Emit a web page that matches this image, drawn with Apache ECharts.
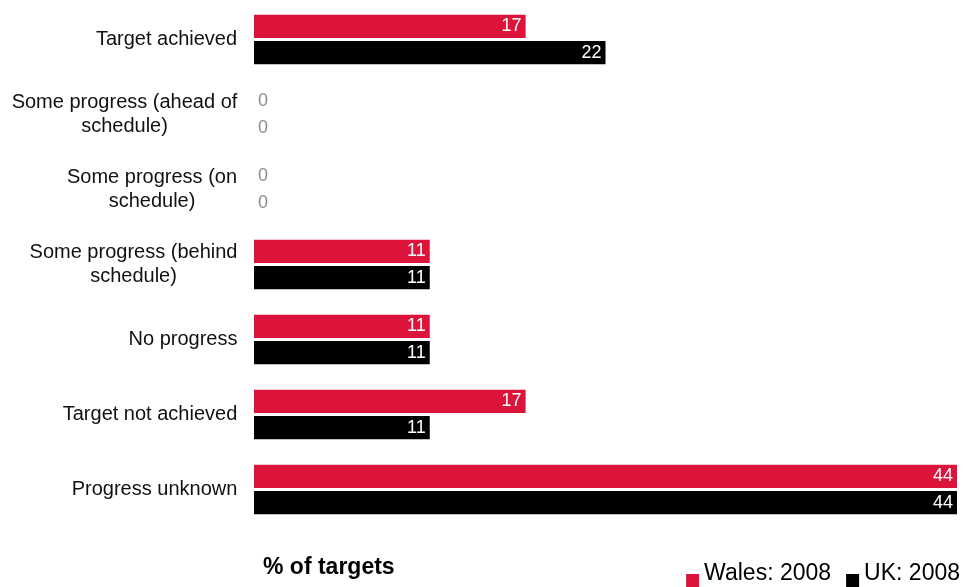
<!DOCTYPE html>
<html>
<head>
<meta charset="utf-8">
<style>
  html, body { margin: 0; padding: 0; background: #fff; }
  #chart { width: 966px; height: 587px; }
</style>
<script src="https://cdn.jsdelivr.net/npm/echarts@6/dist/echarts.min.js"></script>
</head>
<body>
<div id="chart"></div>
<script>
// Progress against targets, share of targets in each status
const categories = [
  'Target achieved',
  'Some progress (ahead of\nschedule)',
  'Some progress (on\nschedule)',
  'Some progress (behind\nschedule)',
  'No progress',
  'Target not achieved',
  'Progress unknown'
];
const walesValues = [17, 0, 0, 11, 11, 17, 44];
const ukValues = [22, 0, 0, 11, 11, 11, 44];
const seriesNames = ['Wales: 2008', 'UK: 2008'];
const seriesColors = ['#DC143C', '#000000'];

const FONT = 'Liberation Sans, Arial, sans-serif';
const CAT_FONT_SIZE = 20;

// Wrapped category names: lines centred on each other, block right-aligned to the axis.
const measureCtx = document.createElement('canvas').getContext('2d');
measureCtx.font = CAT_FONT_SIZE + 'px ' + FONT;
const catRich = {};
categories.forEach((c, i) => {
  const w = Math.max(...c.split('\n').map(s => measureCtx.measureText(s).width));
  catRich['c' + i] = {
    width: Math.ceil(w) + 1,
    align: 'center',
    fontFamily: FONT,
    fontSize: CAT_FONT_SIZE,
    lineHeight: 24,
    color: '#111'
  };
});

// Zero values get a grey label just right of the axis; others sit inside the bar end.
function toItems(values) {
  return values.map(v => v === 0
    ? { value: v, label: { position: 'right', color: '#8c8c8c', distance: 4 } }
    : { value: v });
}

function makeSeries(i, values) {
  return {
    name: seriesNames[i],
    type: 'bar',
    data: toItems(values),
    itemStyle: { color: seriesColors[i] },
    barGap: '14%',
    barCategoryGap: '34%',
    label: {
      show: true,
      position: 'insideRight',
      distance: 4,
      color: '#ffffff',
      fontFamily: FONT,
      fontSize: 18
    },
    emphasis: { disabled: true }
  };
}

// Legend swatch sits in the lower half of a taller box so it lines up with the text baseline.
const legendIcon = 'path://M0,0M0,13L13,13L13,26L0,26Z';

const chart = echarts.init(document.getElementById('chart'), null, { renderer: 'canvas' });
chart.setOption({
  animation: false,
  title: {
    text: '% of targets',
    left: 263,
    top: 556,
    padding: 0,
    textStyle: { fontFamily: FONT, fontSize: 23, fontWeight: 'bold', color: '#000' }
  },
  legend: {
    right: 6,
    top: 561,
    padding: 0,
    itemWidth: 13,
    itemHeight: 26,
    itemGap: 15,
    icon: legendIcon,
    textStyle: { fontFamily: FONT, fontSize: 23, color: '#000' },
    data: seriesNames
  },
  grid: { left: 254, right: 9, top: 2, height: 525, containLabel: false },
  xAxis: {
    type: 'value',
    min: 0,
    max: 44,
    show: false
  },
  yAxis: {
    type: 'category',
    inverse: true,
    data: categories,
    axisLine: { show: false },
    axisTick: { show: false },
    splitLine: { show: false },
    axisLabel: {
      margin: 16,
      align: 'right',
      formatter: (value, idx) => value.split('\n').map(s => '{c' + idx + '|' + s + '}').join('\n'),
      rich: catRich
    }
  },
  series: [makeSeries(0, walesValues), makeSeries(1, ukValues)]
});
</script>
</body>
</html>
